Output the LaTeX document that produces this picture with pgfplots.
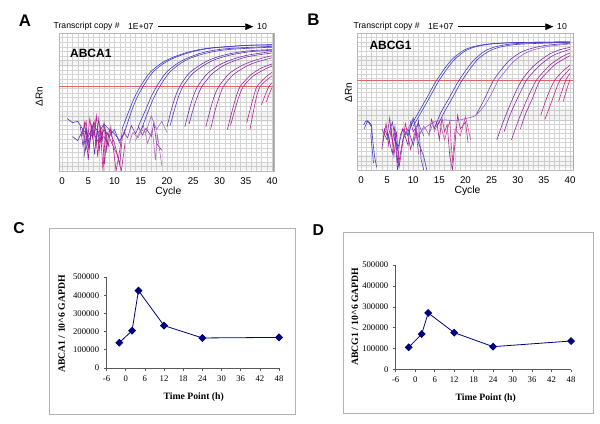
\documentclass[border=0pt]{standalone}
\usepackage{pgfplots}
\pgfplotsset{compat=1.18}
\usetikzlibrary{arrows.meta}
\usepackage{fontspec}
\setmainfont{Liberation Sans}
\newfontfamily\timesf{Liberation Serif}
\newcommand\fs[1]{\fontsize{#1}{#1}\selectfont}

\definecolor{qblue}{RGB}{60,60,200}
\definecolor{qmag}{RGB}{205,30,135}
\definecolor{thr}{RGB}{228,100,100}
\definecolor{navy}{RGB}{0,0,128}
\definecolor{gridc}{RGB}{212,212,212}

\pgfplotsset{
  qpcr/.style={
    scale only axis,
    ymin=0, ymax=100,
    xtick={0,5,...,40}, minor x tick num=4,
    ytick={0,3.333,...,99.9}, yticklabels={},
    grid=both,
    major grid style={gridc, line width=0.35pt},
    minor grid style={gridc, line width=0.35pt},
    tick style={draw=none},
    axis line style={gray!55, line width=0.5pt},
    xticklabel style={font=\fs{7.3}, yshift=-1.5pt},
    /pgf/number format/assume math mode=true,
    every axis plot/.append style={line width=0.45pt, no markers},
  },
  band/.style={fill=gray, fill opacity=0.09, draw=none},
  excel/.style={
    scale only axis,
    xmin=-6, xmax=48, ymin=0, ymax=500000,
    axis x line=bottom, axis y line=left,
    axis line style={-, black!65, line width=0.5pt},
    xtick={-6,0,...,48}, ytick={0,100000,...,500000},
    tick align=outside, major tick length=2pt,
    tick style={black!65, line width=0.5pt},
    scaled y ticks=false,
    yticklabel style={/pgf/number format/fixed, /pgf/number format/1000 sep={}},
    ticklabel style={font=\timesf\fs{6.5}},
    /pgf/number format/assume math mode=true,
    clip=false,
  },
}

\begin{document}
\begin{tikzpicture}
\path[use as bounding box] (0pt,0pt) rectangle (450pt,318pt);

% ---------- panel A ----------
\begin{axis}[qpcr, at={(44.25pt,189.75pt)}, anchor=south west,
  width=161.25pt, height=103.5pt, xmin=-0.57, xmax=40.38]
  \addplot[band] coordinates {(-1,75.4) (41,75.4) (41,80.4) (-1,80.4)} -- cycle;
  \addplot[band] coordinates {(-1,35.5) (41,35.5) (41,42.8) (-1,42.8)} -- cycle;
  \addplot[band] coordinates {(-1,0.7) (41,0.7) (41,5.8) (-1,5.8)} -- cycle;
  \addplot[thr, line width=0.6pt] coordinates {(-1,61.6) (41,61.6)};
  % baseline noise
  \addplot[qblue] coordinates {(1,38) (2,35) (3,36) (4,30) (5,25) (6,33) (7,28) (8,34) (9,30) (10,27) (11,22) (12,28)};
  \addplot[qblue!85!qmag] coordinates {(2,25) (3,22) (4,30) (4.5,15) (5,22) (6,28) (7,20) (8,30) (9,25) (10,30) (11,20)};
  \addplot[qblue!45!qmag] coordinates {(3.5,32) (4,18) (4.5,30) (5,8) (5.5,28) (6,35) (6.5,18) (7,38) (7.5,22) (8,35) (8.5,15) (9,30) (10,20) (11,5) (11.5,25) (12,30)};
  \addplot[qmag] coordinates {(3.8,25) (4.3,35) (4.8,20) (5.3,38) (5.8,24) (6.3,37) (6.8,10) (7.3,33) (7.8,0) (8.3,30) (8.8,18) (9.3,32) (10.3,0) (11,15) (11.5,30)};
  \addplot[qblue!15!qmag] coordinates {(4,28) (4.6,36) (5.1,15) (5.6,33) (6.1,25) (6.6,40) (7.1,15) (7.6,30) (8.1,5) (8.6,28) (9.5,20) (10.5,12) (11.3,0) (12,20)};
  \addplot[qblue!70!qmag] coordinates {(4.2,10) (4.7,30) (5.2,18) (5.7,32) (6.2,12) (6.7,30) (7.2,22) (8,25) (9,18)};
  \addplot[qblue!55!qmag] coordinates {(11.8,28) (12.5,24) (13.2,33) (14,27) (14.6,32) (15.3,26) (16,31) (17,25) (17.5,35) (18,20) (19,15)};
  \addplot[qblue!40!qmag!70!white] coordinates {(12.8,20) (13.5,28) (14.5,24) (15.5,33) (16.3,20) (17.2,30) (17.8,8) (18.2,26) (19,4)};
  \addplot[qblue!60!qmag!70!white] coordinates {(14,22) (15,30) (16,28) (17,40) (18,30) (19,36) (20,28)};
  % amplification curves
  \addplot[qblue, smooth] coordinates {(11.4,30) (12.9,45) (13.9,54) (14.9,61) (15.9,67) (16.9,72) (18.9,78) (20.9,82) (23.9,86) (27.9,89) (34.9,91) (40,91.5)};
  \addplot[qblue!95!qmag, smooth] coordinates {(11.9,28) (13.4,45) (14.4,54) (15.4,61) (16.4,67) (17.4,72) (19.4,78) (21.4,82) (24.4,86) (28.4,89) (35.4,91) (40,91.3)};
  \addplot[qblue!88!qmag, smooth] coordinates {(14.5,32) (16,45) (17,54) (18,61) (19,67) (20,72) (22,78) (24,82) (27,86) (31,88.5) (38,90) (40,90.3)};
  \addplot[qblue!82!qmag, smooth] coordinates {(15.1,30) (16.6,45) (17.6,54) (18.6,61) (19.6,67) (20.6,72) (22.6,78) (24.6,82) (27.6,85.5) (31.6,88) (38.6,89.5) (40,89.7)};
  \addplot[qblue!74!qmag, smooth] coordinates {(20,32) (20.8,44) (21.6,54) (22.4,61) (23.4,67) (24.4,71.5) (26.4,77) (28.4,81) (31.4,84.5) (35.4,87) (40,88)};
  \addplot[qblue!70!qmag, smooth] coordinates {(20.6,33) (21.4,44) (22.2,54) (23,61) (24,66.5) (25,71) (27,76.5) (29,80.5) (32,84) (36,86.5) (40,87.5)};
  \addplot[qblue!62!qmag, smooth] coordinates {(23.4,32) (24.2,44) (25,54) (25.8,61) (26.8,66.5) (27.8,71) (29.8,76.5) (31.8,80) (34.8,83.5) (38.8,86) (40,86.5)};
  \addplot[qblue!57!qmag, smooth] coordinates {(24.2,34) (25,45) (25.8,54) (26.6,61) (27.6,66) (28.6,70.5) (30.6,76) (32.6,79.5) (35.6,83) (40,85.5)};
  \addplot[qblue!45!qmag, smooth] coordinates {(27.4,32) (28.2,44) (29,54) (29.8,61) (30.8,66) (31.8,70.5) (33.8,75.5) (35.8,79) (38.8,82.5) (40,83.5)};
  \addplot[qblue!40!qmag, smooth] coordinates {(28.3,30) (29.1,43) (29.9,53) (30.7,61) (31.7,66) (32.7,70) (34.7,75) (36.7,78.5) (40,82)};
  \addplot[qblue!30!qmag, smooth] coordinates {(31.5,30) (32.3,42) (33.1,53) (33.9,61) (34.9,65.5) (35.9,69.5) (37.9,74.5) (40,77.5)};
  \addplot[qblue!26!qmag, smooth] coordinates {(32.1,33) (32.9,44) (33.7,54) (34.5,61) (35.5,65.5) (36.5,69) (38.5,73.5) (40,76)};
  \addplot[qblue!15!qmag, smooth] coordinates {(35.2,35) (35.8,44) (36.5,54) (37.1,61) (38.1,65.5) (39.1,69) (40,71.5)};
  \addplot[qblue!12!qmag, smooth] coordinates {(35.8,30) (36.4,42) (37,53) (37.7,61) (38.7,65) (40,69)};
  \addplot[qblue!5!qmag, smooth] coordinates {(38,48) (38.7,55) (39.3,60.5) (40,64)};
  \addplot[qmag, smooth] coordinates {(38.9,50) (39.4,55) (40,60.5)};
  \addplot[gray!75, line width=1.2pt] coordinates {(40.38,0) (40.38,100)};
\end{axis}

% ---------- panel B ----------
\begin{axis}[qpcr, at={(267.98pt,190.5pt)}, anchor=south west,
  width=162pt, height=102.75pt, xmin=-0.7, xmax=40.63]
  \addplot[band] coordinates {(-1,75.9) (41,75.9) (41,83.2) (-1,83.2)} -- cycle;
  \addplot[band] coordinates {(-1,35.8) (41,35.8) (41,45.3) (-1,45.3)} -- cycle;
  \addplot[band] coordinates {(-1,1.5) (41,1.5) (41,10.9) (-1,10.9)} -- cycle;
  \addplot[thr, line width=0.6pt] coordinates {(-1,65.7) (41,65.7)};
  % baseline noise
  \addplot[qblue] coordinates {(0.5,33) (1,36) (1.6,34) (2.1,31) (1.9,25) (2.4,5)};
  \addplot[qblue!90!qmag] coordinates {(0.6,30) (1.3,36) (2,33) (2.3,20) (2.6,10) (3,2)};
  \addplot[qblue] coordinates {(4,30) (5,22) (6,35) (7,15) (8,30) (9,25) (10,38) (11,20) (12,10) (12.6,0)};
  \addplot[qblue!45!qmag] coordinates {(4,15) (4.5,30) (5,25) (5.5,38) (6,20) (6.5,32) (7,5) (7.5,25) (8,30) (9,18) (9.5,35) (10,28) (11,34) (12,25)};
  \addplot[qmag] coordinates {(4.2,20) (4.8,34) (5.3,18) (5.8,30) (6.3,10) (6.8,28) (7.3,2) (8,20) (8.5,34) (9.5,15) (10.5,30) (11,12)};
  \addplot[qblue!75!qmag] coordinates {(5,28) (6,12) (6.5,25) (7,0) (8,22) (9,30) (10,18) (11,36) (11.5,8) (12,0)};
  \addplot[qblue!25!qmag] coordinates {(13,25) (13.5,37) (14,30) (14.5,35) (15,22) (15.5,38) (16,28) (16.5,33) (17,10) (17.5,0) (18,20) (18.5,40) (19,30) (20,35) (20.5,20)};
  \addplot[qmag!80!white] coordinates {(14,28) (15,36) (16,22) (17,36) (17.5,5) (18,30) (19,25) (20,39) (21,22)};
  \addplot[qblue!60!qmag!70!white] coordinates {(9,30) (10,38) (11,24) (12,32) (13,26) (14,36)};
  % amplification curves
  \addplot[qblue, smooth] coordinates {(9.5,32) (11,42) (12.5,52) (13.5,59) (14.5,65.7) (16,74) (17.5,81) (19.5,87) (21.5,90) (24.5,92) (29.5,93) (40,93.5)};
  \addplot[qblue!95!qmag, smooth] coordinates {(10,32) (11.5,42) (13,52) (14,59) (15,65.7) (16.5,74) (18,81) (20,87) (22,90) (25,92) (30,93) (40,93.5)};
  \addplot[qblue!88!qmag, smooth] coordinates {(14,30) (15.3,42) (16.8,52) (17.8,59) (18.8,65.7) (20.3,74) (21.8,81) (23.8,87) (25.8,90) (28.8,92) (33.8,93) (40,93.3)};
  \addplot[qblue!84!qmag, smooth] coordinates {(14.6,32) (15.9,42) (17.4,52) (18.4,59) (19.4,65.7) (20.9,74) (22.4,81) (24.4,86.5) (26.4,89.5) (29.4,91.5) (34.4,92.5) (40,93)};
  \addplot[qblue!72!qmag, smooth] coordinates {(22,40) (23.4,50) (24.4,58) (25.4,65.7) (26.9,73.5) (28.4,80) (30.4,85.5) (32.4,88.5) (35.4,91) (40,92.5)};
  \addplot[qblue!65!qmag!75!white, smooth] coordinates {(10,22) (12,30) (14,35) (16,36.5) (18,36) (20,37.5) (22,40) (23.8,48) (25.3,58) (26.3,65.7) (27.8,73) (29.3,79.5) (31.3,85) (33.3,88) (36.3,90.5) (40,92)};
  \addplot[qblue!50!qmag, smooth] coordinates {(26,22) (27.3,36) (28.8,50) (29.8,58.5) (30.8,65.7) (32.3,73) (33.8,78.5) (35.8,84) (37.8,87.5) (40,89.5)};
  \addplot[qblue!45!qmag, smooth] coordinates {(27.4,28) (28.5,40) (29.9,52) (30.8,59) (31.7,65.7) (33.2,72.5) (34.7,78) (36.7,83.5) (38.7,86.5) (40,88)};
  \addplot[qblue!35!qmag, smooth] coordinates {(28.8,22) (30.1,36) (31.6,50) (32.6,58.5) (33.6,65.7) (35.1,72.5) (36.6,78) (38.6,83) (40,85.5)};
  \addplot[qblue!30!qmag, smooth] coordinates {(30.5,30) (31.6,42) (32.8,52) (33.5,59) (34.3,65.7) (35.8,72) (37.3,77.5) (39.3,82) (40,83.5)};
  \addplot[qblue!18!qmag, smooth] coordinates {(34.4,40) (35.2,49) (36.1,58) (37.1,65.7) (38.6,72) (40,76.5)};
  \addplot[qblue!12!qmag, smooth] coordinates {(35.2,37) (36.3,48) (37.2,57.5) (38.1,65.7) (39.3,71) (40,74)};
  \addplot[qblue!5!qmag, smooth] coordinates {(37.8,50) (38.5,58) (39.2,65.7) (40,70.5)};
  \addplot[qmag, smooth] coordinates {(38.7,50) (39.3,58) (39.8,64) (40,66)};
  \addplot[gray!75, line width=1.2pt] coordinates {(40.63,0) (40.63,100)};
\end{axis}

% ---------- panel C ----------
\draw[gray!60, line width=0.5pt] (36.75pt,147pt) rectangle (221.25pt,7.5pt);
\begin{axis}[excel, at={(79.88pt,42pt)}, anchor=south west,
  width=129.4pt, height=68.25pt]
  \addplot[navy, line width=0.6pt, mark=square*, mark size=1.8pt,
    mark options={rotate=45}] coordinates {
    (-2,139000) (2,205000) (4,425000) (12,233000) (24,165000) (48,168000)};
\end{axis}

% ---------- panel D ----------
\draw[gray!60, line width=0.5pt] (257.25pt,144pt) rectangle (444.75pt,8.25pt);
\begin{axis}[excel, at={(296.78pt,40.73pt)}, anchor=south west,
  width=131.5pt, height=78.5pt]
  \addplot[navy, line width=0.6pt, mark=square*, mark size=1.8pt,
    mark options={rotate=45}] coordinates {
    (-2,107000) (2,170000) (4,271000) (12,177000) (24,110000) (48,137000)};
\end{axis}

% ---------- texts ----------
\node[font=\bfseries\fs{12.6}] at (18.75pt,302.25pt) {A};
\node[font=\bfseries\fs{12.6}] at (235.13pt,303pt) {B};
\node[font=\bfseries\fs{11.8}] at (14.25pt,146.63pt) {C};
\node[font=\bfseries\fs{11.8}] at (238.73pt,145.5pt) {D};

\node[font=\fs{6.5}] at (65.03pt,297.98pt) {Transcript copy \#};
\node[font=\fs{6.5}] at (105.6pt,297.98pt) {1E+07};
\draw[line width=0.5pt, -{Triangle[length=6pt,width=5pt]}] (118.73pt,297.98pt) -- (189.98pt,297.98pt);
\node[font=\fs{6.5}] at (196.5pt,297.98pt) {10};
\node[font=\bfseries\fs{9}] at (68.1pt,278.03pt) {ABCA1};
\node[font=\fs{7.5}, rotate=90] at (29.48pt,245.48pt) {ΔRn};
\node[font=\fs{7.8}] at (126.23pt,173.78pt) {Cycle};

\node[font=\fs{6.5}] at (290.03pt,297.98pt) {Transcript copy \#};
\node[font=\fs{6.5}] at (330.6pt,297.98pt) {1E+07};
\draw[line width=0.5pt, -{Triangle[length=6pt,width=5pt]}] (343.73pt,297.98pt) -- (414.98pt,297.98pt);
\node[font=\fs{6.5}] at (421.5pt,297.98pt) {10};
\node[font=\bfseries\fs{9}] at (292.88pt,283.73pt) {ABCG1};
\node[font=\fs{7.5}, rotate=90] at (261.23pt,248.63pt) {ΔRn};
\node[font=\fs{7.8}] at (350.63pt,174.75pt) {Cycle};

\node[font=\timesf\bfseries\fs{7.3}] at (145.28pt,20.03pt) {Time Point (h)};
\node[font=\timesf\bfseries\fs{7.3}, rotate=90] at (46.28pt,75pt) {ABCA1 / 10\textasciicircum 6 GAPDH};
\node[font=\timesf\bfseries\fs{7.3}] at (364.28pt,19.28pt) {Time Point (h)};
\node[font=\timesf\bfseries\fs{7.3}, rotate=90] at (266.25pt,80.48pt) {ABCG1 / 10\textasciicircum 6 GAPDH};
\end{tikzpicture}
\end{document}
